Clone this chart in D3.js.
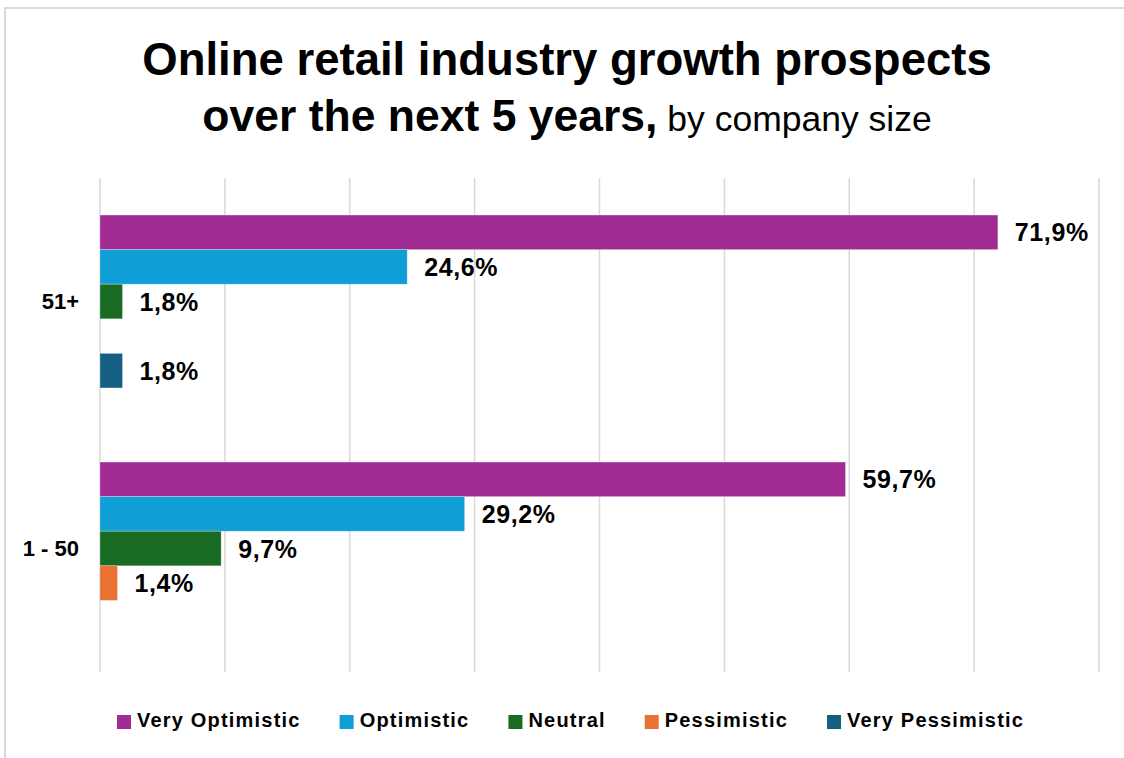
<!DOCTYPE html>
<html>
<head>
<meta charset="utf-8">
<script src="https://cdn.jsdelivr.net/npm/d3@7"></script>
<style>
  html, body { margin: 0; padding: 0; background: #fff; }
  svg { display: block; font-family: "Liberation Sans", Arial, sans-serif; }
</style>
</head>
<body>
<svg id="chart" width="1124" height="758"></svg>
<script>
// Company size groups, top to bottom
const categories = ["51+", "1 - 50"];
// Sentiment series, in bar order within each group
const seriesNames = ["Very Optimistic", "Optimistic", "Neutral", "Pessimistic", "Very Pessimistic"];
const seriesColors = ["#A02B93", "#0F9ED5", "#196B24", "#E97132", "#156082"];
// Share of respondents (%) per series, aligned with categories
const veryOptimistic = [71.9, 59.7];
const optimistic = [24.6, 29.2];
const neutral = [1.8, 9.7];
const pessimistic = [0, 1.4];
const veryPessimistic = [1.8, 0];
const xTicks = [0, 10, 20, 30, 40, 50, 60, 70, 80];

const seriesValues = [veryOptimistic, optimistic, neutral, pessimistic, veryPessimistic];
const rows = [];
categories.forEach((c, ci) => {
  seriesNames.forEach((s, si) => {
    rows.push({ category: c, series: s, value: seriesValues[si][ci], color: seriesColors[si] });
  });
});

const svg = d3.select("#chart");
const W = 1124, H = 758;
const plot = { left: 100, right: 1099, top: 178, bottom: 672 };

// Outer frame
svg.append("rect")
  .attr("x", 5).attr("y", 8)
  .attr("width", W + 20).attr("height", H + 20)
  .attr("fill", "#fff")
  .attr("stroke", "#d9d9d9").attr("stroke-width", 2);

// Title
const title = svg.append("text")
  .attr("text-anchor", "middle")
  .attr("fill", "#000");
title.append("tspan")
  .attr("x", 567).attr("y", 75)
  .attr("font-size", 45.5).attr("font-weight", "bold")
  .text("Online retail industry growth prospects");
const line2 = svg.append("text")
  .attr("text-anchor", "middle")
  .attr("x", 567).attr("y", 131)
  .attr("fill", "#000");
line2.append("tspan")
  .attr("font-size", 44.5).attr("font-weight", "bold")
  .text("over the next 5 years,");
line2.append("tspan")
  .attr("font-size", 35.5).attr("font-weight", "normal")
  .text(" by company size");

// Scales
const x = d3.scaleLinear().domain([0, 80]).range([plot.left, plot.right]);
const y0 = d3.scaleBand().domain(categories).range([plot.top, plot.bottom])
  .paddingInner(0.3).paddingOuter(0.15);
const y1 = d3.scaleBand().domain(seriesNames).range([0, y0.bandwidth()]);

// Vertical gridlines
svg.append("g")
  .selectAll("line")
  .data(xTicks)
  .join("line")
  .attr("x1", d => x(d)).attr("x2", d => x(d))
  .attr("y1", plot.top).attr("y2", plot.bottom)
  .attr("stroke", "#d9d9d9").attr("stroke-width", 1.5);

// Bars
svg.append("g")
  .selectAll("rect")
  .data(rows.filter(d => d.value > 0))
  .join("rect")
  .attr("x", x(0))
  .attr("y", d => y0(d.category) + y1(d.series))
  .attr("width", d => x(d.value) - x(0))
  .attr("height", y1.bandwidth())
  .attr("fill", d => d.color)
  .attr("stroke", "#ffffff").attr("stroke-opacity", 0.35).attr("stroke-width", 0.75);

// Value labels
const fmt = v => d3.format(".1f")(v).replace(".", ",") + "%";
svg.append("g")
  .selectAll("text")
  .data(rows.filter(d => d.value > 0))
  .join("text")
  .attr("x", d => x(d.value) + 17)
  .attr("y", d => y0(d.category) + y1(d.series) + y1.bandwidth() / 2)
  .attr("dy", "0.36em")
  .attr("font-size", 25).attr("font-weight", "bold")
  .attr("letter-spacing", 0.6)
  .attr("fill", "#000")
  .text(d => fmt(d.value));

// Category axis labels
svg.append("g")
  .selectAll("text")
  .data(categories)
  .join("text")
  .attr("x", 79)
  .attr("y", d => y0(d) + y0.bandwidth() / 2)
  .attr("dy", "0.36em")
  .attr("text-anchor", "end")
  .attr("font-size", 22).attr("font-weight", "bold")
  .attr("fill", "#000")
  .text(d => d);

// Legend
const legend = svg.append("g");
let lx = 117;
seriesNames.forEach((name, i) => {
  legend.append("rect")
    .attr("x", lx).attr("y", 715)
    .attr("width", 14).attr("height", 14)
    .attr("fill", seriesColors[i]);
  const t = legend.append("text")
    .attr("x", lx + 20).attr("y", 727)
    .attr("font-size", 20).attr("font-weight", "bold")
    .attr("letter-spacing", 1.2)
    .attr("fill", "#000")
    .text(name);
  lx += 20 + t.node().getComputedTextLength() + 39;
});
</script>
</body>
</html>
